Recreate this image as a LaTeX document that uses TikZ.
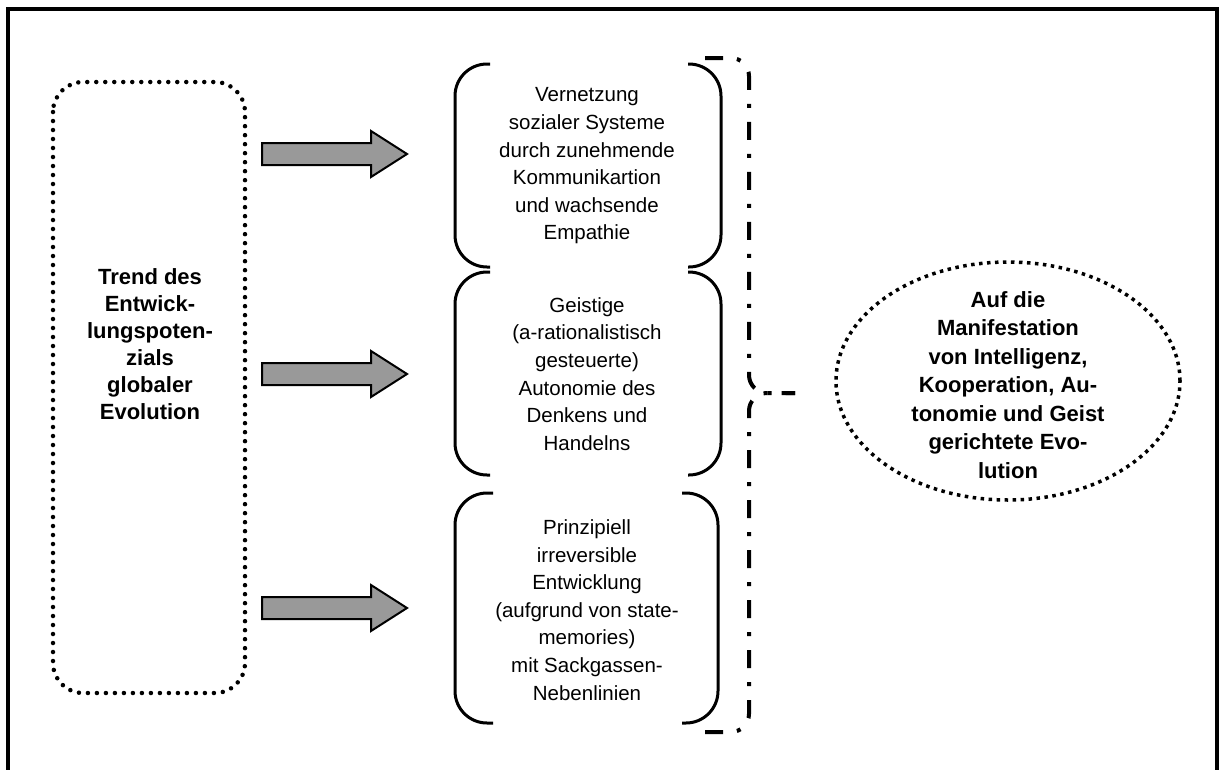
\documentclass[tikz,border=0pt]{standalone}
\usepackage{fontspec}
\setmainfont{Liberation Sans}
\usetikzlibrary{shapes.geometric}

\definecolor{arrowgray}{gray}{0.6}

\tikzset{
  frame/.style={line width=4pt},
  dotbox/.style={line width=4.5pt, line cap=round, dash pattern=on 0pt off 9pt, rounded corners=30pt},
  bracketside/.style={line width=3pt, rounded corners=32pt},
  bracedash/.style={line width=4pt, dash pattern=on 18pt off 14pt on 4pt off 14pt, rounded corners=18pt},
  dotellipse/.style={ellipse, draw, line width=3.5pt, dash pattern=on 3.5pt off 4.5pt, inner sep=0pt},
  blockarrow/.style={draw=black, fill=arrowgray, line width=2pt, line join=miter},
  bodytext/.style={align=center, font=\fontsize{20.5}{27.6}\selectfont, inner sep=0pt},
  boldtext/.style={align=center, font=\fontsize{22}{27}\selectfont\bfseries, inner sep=0pt},
  goaltext/.style={align=center, font=\fontsize{22}{28.5}\selectfont\bfseries, inner sep=0pt},
}

\begin{document}
\begin{tikzpicture}[x=1pt, y=-1pt]
\useasboundingbox (0,0) rectangle (1219,769);
\clip (0,0) rectangle (1219,769);

% outer frame, open at the bottom edge of the page
\draw[frame] (8,790) -- (8,9) -- (1217,9) -- (1217,790);

% left dotted box with its label
\node[boldtext] (trend) at (150,344) {Trend des\\Entwick-\\lungspoten-\\zials\\globaler\\Evolution};
\draw[dotbox] (53,82) rectangle (245,693);

% block arrows
\foreach \yc in {154,374,608} {
  \draw[blockarrow] (262,\yc-11) -- (371,\yc-11) -- (371,\yc-23) -- (407,\yc)
    -- (371,\yc+23) -- (371,\yc+11) -- (262,\yc+11) -- cycle;
}

% three bracketed statements
\node[bodytext] (vernetzung) at (587,166) {Vernetzung\\sozialer Systeme\\durch zunehmende\\Kommunikartion\\und wachsende\\Empathie};
\draw[bracketside] (490,64) -- (455,64) -- (455,267) -- (490,267);
\draw[bracketside] (688,64) -- (721,64) -- (721,267) -- (688,267);

\node[bodytext] (autonomie) at (587,374) {Geistige\\(a-rationalistisch\\gesteuerte)\\Autonomie des\\Denkens und\\Handelns};
\draw[bracketside] (490,272) -- (455,272) -- (455,475) -- (490,475);
\draw[bracketside] (688,272) -- (721,272) -- (721,475) -- (688,475);

\node[bodytext] (entwicklung) at (587,610) {Prinzipiell\\irreversible\\Entwicklung\\(aufgrund von state-\\memories)\\mit Sackgassen-\\Nebenlinien};
\draw[bracketside] (493,493) -- (455,493) -- (455,723) -- (493,723);
\draw[bracketside] (682,493) -- (718,493) -- (718,723) -- (682,723);

% large dash-dotted curly brace
\draw[bracedash] (705,58) -- (749,58) -- (749,393) -- (795,393);
\draw[bracedash] (705,732) -- (749,732) -- (749,393) -- (795,393);

% dotted ellipse with the goal statement
\node[dotellipse, minimum width=344pt, minimum height=238pt] (goal) at (1008,381) {};
\node[goaltext] (goallabel) at (1008,385) {Auf die\\Manifestation\\von Intelligenz,\\Kooperation, Au-\\tonomie und Geist\\gerichtete Evo-\\lution};
\end{tikzpicture}
\end{document}
